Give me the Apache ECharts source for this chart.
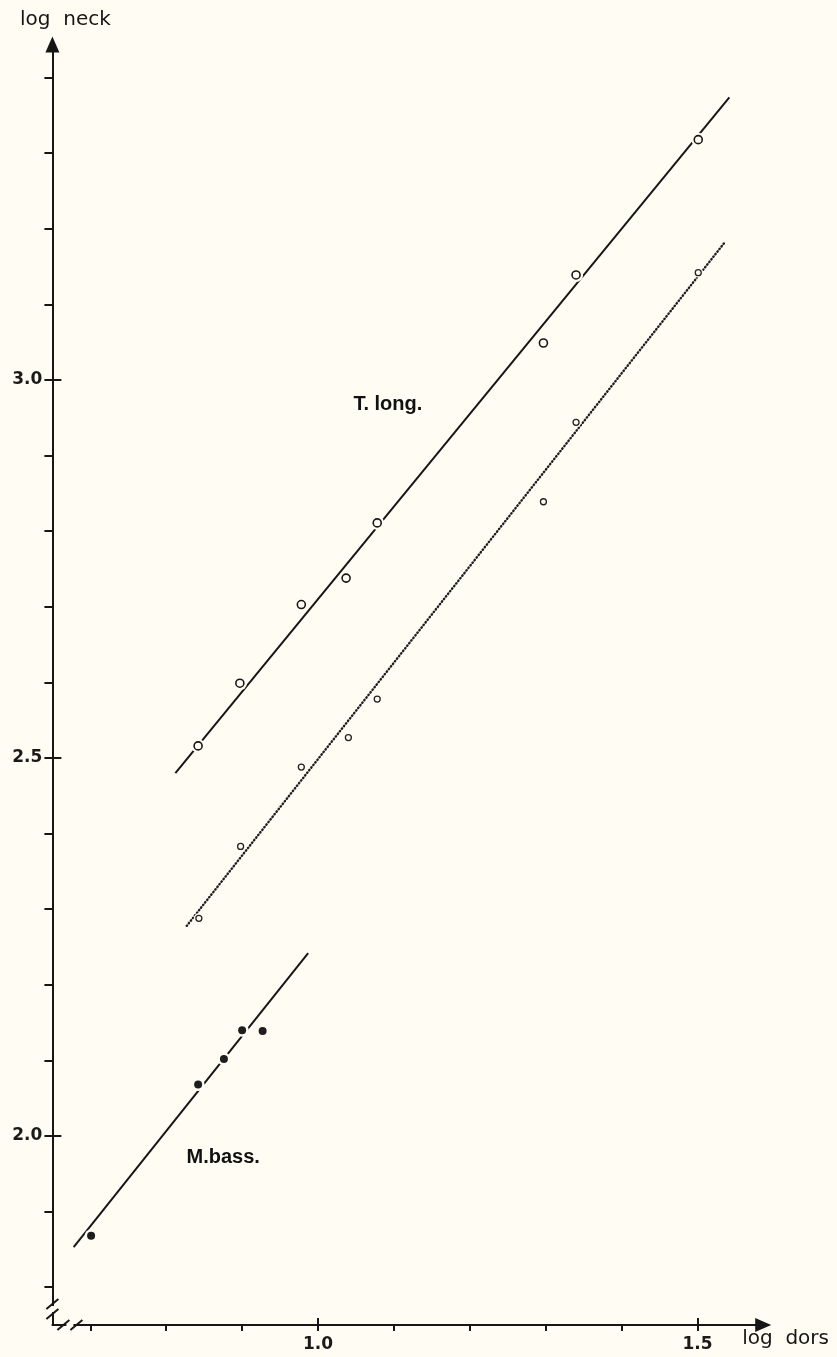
<!DOCTYPE html>
<html>
<head>
<meta charset="utf-8">
<script src="https://cdn.jsdelivr.net/npm/echarts@6/dist/echarts.min.js"></script>
<style>
html,body{margin:0;padding:0;background:#fffdf3;}
#chart{width:837px;height:1357px;}
</style>
</head>
<body>
<div id="chart"></div>
<script>
// ---- axis ticks ----
const xTicks = [0.7, 0.8, 0.9, 1.0, 1.1, 1.2, 1.3, 1.4, 1.5];
const xMajor = [1.0, 1.5];
const yTicks = [1.8, 1.9, 2.0, 2.1, 2.2, 2.3, 2.4, 2.5, 2.6, 2.7, 2.8, 2.9, 3.0, 3.1, 3.2, 3.3, 3.4];
const yMajor = [2.0, 2.5, 3.0];

// ---- T. long. (open circles, solid fit) ----
const tlongX = [0.842, 0.897, 0.978, 1.037, 1.078, 1.297, 1.340, 1.501];
const tlongY = [2.516, 2.599, 2.703, 2.738, 2.811, 3.049, 3.139, 3.318];
const tlongFitX = [0.812, 1.542];
const tlongFitY = [2.480, 3.374];

// ---- second T. long. set (small open circles, dotted fit) ----
const tlong2X = [0.843, 0.898, 0.978, 1.040, 1.078, 1.297, 1.340, 1.501];
const tlong2Y = [2.288, 2.383, 2.488, 2.527, 2.578, 2.839, 2.944, 3.142];
const tlong2FitX = [0.827, 1.535];
const tlong2FitY = [2.278, 3.181];

// ---- M. bass. (filled dots, solid fit) ----
const mbassX = [0.701, 0.842, 0.876, 0.900, 0.927];
const mbassY = [1.868, 2.068, 2.102, 2.140, 2.139];
const mbassFitX = [0.678, 0.987];
const mbassFitY = [1.853, 2.242];

// ---- annotations ----
const noteText = ['T. long.', 'M.bass.'];
const noteX = [1.092, 0.875];
const noteY = [2.967, 1.972];

const BG = '#fffdf3';
const INK = '#161616';

const zip = (a, b) => a.map((v, i) => [v, b[i]]);

const chart = echarts.init(document.getElementById('chart'), null, {renderer: 'canvas'});

const tickFont = {fontFamily: 'DejaVu Sans', fontWeight: 'bold', fontSize: 17, color: '#1a1a1a'};
const nameFont = {fontFamily: 'DejaVu Sans', fontSize: 20, color: INK};

const option = {
  backgroundColor: BG,
  animation: false,
  grid: {left: 52.4, right: 78.8, top: 47.4, bottom: 32, containLabel: false},
  xAxis: [
    {
      type: 'value', min: 0.65, max: 1.58, position: 'bottom',
      name: 'log  dors', nameLocation: 'end', nameGap: -16,
      nameTextStyle: Object.assign({}, nameFont, {align: 'left', verticalAlign: 'top', padding: [4, 0, 0, 0]}),
      axisLine: {show: true, onZero: false, symbol: ['none', 'triangle'], symbolSize: [14, 16], symbolOffset: [0, 5],
        lineStyle: {color: INK, width: 2}},
      axisTick: {show: true, customValues: xTicks, length: 6, lineStyle: {color: INK, width: 2}},
      axisLabel: Object.assign({show: true, customValues: xMajor, margin: 11, formatter: v => v.toFixed(1)}, tickFont),
      splitLine: {show: false}
    },
    {
      type: 'value', min: 0.65, max: 1.58, position: 'bottom',
      axisLine: {show: false, onZero: false},
      axisTick: {show: true, inside: true, customValues: xMajor, length: 7, lineStyle: {color: INK, width: 2}},
      axisLabel: {show: false},
      splitLine: {show: false}
    }
  ],
  yAxis: [
    {
      type: 'value', min: 1.75, max: 3.44, position: 'left',
      name: 'log  neck', nameLocation: 'end', nameGap: 18,
      nameTextStyle: Object.assign({}, nameFont, {align: 'center', verticalAlign: 'bottom', padding: [0, 0, 0, 26]}),
      axisLine: {show: true, onZero: false, symbol: ['none', 'triangle'], symbolSize: [14, 16], symbolOffset: [0, 3],
        lineStyle: {color: INK, width: 2}},
      axisTick: {show: true, customValues: yTicks, length: 8, lineStyle: {color: INK, width: 2}},
      axisLabel: Object.assign({show: true, customValues: yMajor, margin: 10, formatter: v => v.toFixed(1)}, tickFont),
      splitLine: {show: false}
    },
    {
      type: 'value', min: 1.75, max: 3.44, position: 'left',
      axisLine: {show: false, onZero: false},
      axisTick: {show: true, inside: true, customValues: yMajor, length: 9, lineStyle: {color: INK, width: 2}},
      axisLabel: {show: false},
      splitLine: {show: false}
    }
  ],
  series: [
    {type: 'line', name: 'T. long. fit', data: zip(tlongFitX, tlongFitY), showSymbol: false, symbol: 'none', z: 2,
      lineStyle: {color: INK, width: 2}},
    {type: 'line', name: 'T. long. dotted fit', data: zip(tlong2FitX, tlong2FitY), showSymbol: false, symbol: 'none', z: 2,
      lineStyle: {color: '#1e1e1e', width: 2.4, type: [0.5, 2.8], cap: 'round'}},
    {type: 'line', name: 'M. bass. fit', data: zip(mbassFitX, mbassFitY), showSymbol: false, symbol: 'none', z: 2,
      lineStyle: {color: INK, width: 2}},
    // halos that break the lines around the markers
    {type: 'scatter', silent: true, data: zip(tlongX, tlongY), symbolSize: 14, z: 3, itemStyle: {color: BG, opacity: 1}},
    {type: 'scatter', silent: true, data: zip(tlong2X, tlong2Y), symbolSize: 10, z: 3, itemStyle: {color: BG, opacity: 1}},
    {type: 'scatter', silent: true, data: zip(mbassX, mbassY), symbolSize: 13, z: 3, itemStyle: {color: BG, opacity: 1}},
    // markers
    {type: 'scatter', name: 'T. long.', data: zip(tlongX, tlongY), symbol: 'circle', symbolSize: 8, z: 4,
      itemStyle: {color: BG, borderColor: INK, borderWidth: 1.6, opacity: 1}},
    {type: 'scatter', name: 'T. long. 2', data: zip(tlong2X, tlong2Y), symbol: 'circle', symbolSize: 6, z: 4,
      itemStyle: {color: BG, borderColor: '#222', borderWidth: 1.3, opacity: 1}},
    {type: 'scatter', name: 'M. bass.', data: zip(mbassX, mbassY), symbol: 'circle', symbolSize: 8, z: 4,
      itemStyle: {color: '#1e1e1e', opacity: 1}},
    // annotations
    {type: 'scatter', silent: true, symbolSize: 0, z: 5,
      data: noteText.map((t, i) => ({value: [noteX[i], noteY[i]], name: t})),
      itemStyle: {color: INK, opacity: 1},
      label: {show: true, position: 'inside', formatter: p => p.name,
        fontFamily: 'Liberation Sans', fontWeight: 'bold', fontSize: 20, color: '#111', opacity: 1}}
  ]
};
chart.setOption(option);

// axis-break marks near the origin (decoration, placed from the axes' own scale)
const o = chart.convertToPixel({gridIndex: 0}, [0.65, 1.75]);
const slash = (cx, cy) => ({type: 'line', z: 100, silent: true,
  shape: {x1: cx - 6, y1: cy + 5, x2: cx + 6, y2: cy - 5}, style: {stroke: INK, lineWidth: 2}});
chart.setOption({
  graphic: [
    {type: 'rect', z: 99, silent: true, shape: {x: o[0] - 3, y: o[1] - 19, width: 6, height: 6}, style: {fill: BG}},
    {type: 'rect', z: 99, silent: true, shape: {x: o[0] + 14, y: o[1] - 3, width: 7, height: 6}, style: {fill: BG}},
    slash(o[0], o[1] - 21),
    slash(o[0], o[1] - 11),
    slash(o[0] + 11, o[1]),
    slash(o[0] + 24, o[1])
  ]
});
</script>
</body>
</html>
